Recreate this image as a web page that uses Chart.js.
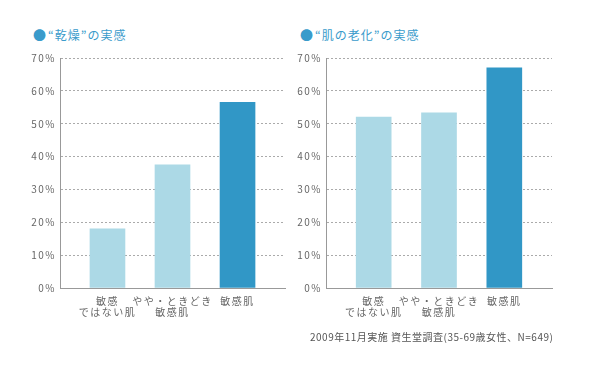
<!DOCTYPE html>
<html>
<head>
<meta charset="utf-8">
<script src="https://cdn.jsdelivr.net/npm/chart.js@4/dist/chart.umd.min.js"></script>
<style>
  body { margin: 0; background: #fff; width: 590px; height: 370px; position: relative; overflow: hidden;
         font-family: "Noto Sans CJK JP", sans-serif; }
  .ttl { position: absolute; top: 25px; font-size: 12px; color: #3a9bcb; letter-spacing: 1px; }
  .ttl span { font-size: 13px; margin-right: 1px; }
  canvas { position: absolute; top: 0; }
  #foot { position: absolute; left: 310px; top: 329px; font-size: 10px; color: #555; letter-spacing: 0.5px; }
</style>
</head>
<body>
<div class="ttl" style="left:33px"><span>●</span>“乾燥”の実感</div>
<div class="ttl" style="left:300px"><span>●</span>“肌の老化”の実感</div>
<canvas id="left" width="295" height="330" style="left:0"></canvas>
<canvas id="right" width="296" height="330" style="left:266px"></canvas>
<div id="foot">2009年11月実施 資生堂調査(35-69歳女性、N=649)</div>
<script>
const categories = [["敏感", "ではない肌"], ["やや・ときどき", "敏感肌"], "敏感肌"];
const dryness = [18, 37.5, 56.5];
const aging = [52, 53.3, 67];
const yTicks = [0, 10, 20, 30, 40, 50, 60, 70];
const barColors = ["#acd9e6", "#acd9e6", "#3197c6"];

// 文字間を少し広げる
const spacing = {
    id: "spacing",
    beforeDraw: (chart) => { chart.ctx.letterSpacing = "1.5px"; },
};

function makeChart(id, values) {
    const ctx = document.getElementById(id).getContext("2d");
    return new Chart(ctx, {
        type: "bar",
        data: {
            datasets: [
                {
                    // カテゴリは1,2,3の位置に置く
                    data: values.map((v, i) => ({ x: i + 1, y: v })),
                    backgroundColor: barColors,
                    barThickness: 35,
                },
            ],
        },
        plugins: [spacing],
        options: {
            responsive: false,
            animation: false,
            layout: { padding: { top: 58, right: 10, bottom: 0, left: 0 } },
            plugins: { legend: { display: false }, tooltip: { enabled: false } },
            scales: {
                x: {
                    type: "linear",
                    offset: false,
                    min: 0.27,
                    max: 3.73,
                    grid: { display: false },
                    border: { display: true, color: "#999", width: 1 },
                    afterBuildTicks: (s) => {
                        s.ticks = categories.map((c, i) => ({ value: i + 1 }));
                    },
                    ticks: {
                        color: "#666",
                        padding: -1,
                        maxRotation: 0,
                        autoSkip: false,
                        font: { family: "Noto Sans CJK JP", size: 10, lineHeight: 1.15 },
                        callback: (v) => categories[Math.round(v) - 1],
                    },
                    afterFit: (s) => { s.height = 42; },
                },
                y: {
                    min: 0,
                    max: 70,
                    grid: { color: "#aaa", drawTicks: false },
                    border: { display: true, color: "#999", width: 1, dash: [2, 2] },
                    afterBuildTicks: (s) => {
                        s.ticks = yTicks.map((v) => ({ value: v }));
                    },
                    ticks: {
                        color: "#666",
                        padding: 4,
                        font: { family: "Noto Sans CJK JP", size: 10 },
                        callback: (v) => v + "%",
                    },
                    afterFit: (s) => { s.width = 60; },
                },
            },
        },
    });
}

makeChart("left", dryness);
makeChart("right", aging);
</script>
</body>
</html>
